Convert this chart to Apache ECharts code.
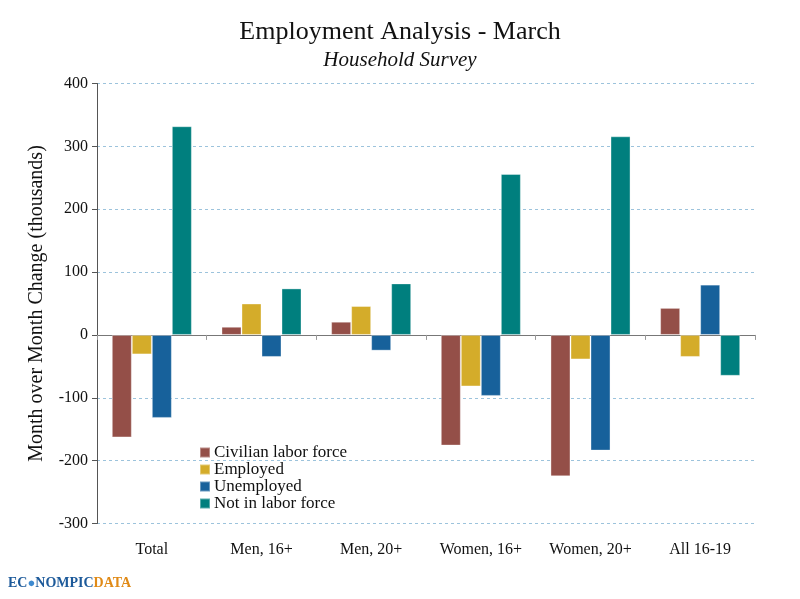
<!DOCTYPE html>
<html>
<head>
<meta charset="utf-8">
<script src="https://cdn.jsdelivr.net/npm/echarts@6/dist/echarts.min.js"></script>
<style>
  html, body { margin: 0; padding: 0; background: #fff; }
  #main { width: 800px; height: 599px; }
</style>
</head>
<body>
<div id="main"></div>
<script>
// data (thousands)
const categories = ['Total', 'Men, 16+', 'Men, 20+', 'Women, 16+', 'Women, 20+', 'All 16-19']
const civilian = [-163, 13, 21, -176, -225, 43]
const employed = [-31, 50, 46, -82, -39, -35]
const unemployed = [-132, -35, -25, -97, -184, 80]
const notInLabor = [332, 74, 82, 256, 316, -65]
const seriesNames = ['Civilian labor force', 'Employed', 'Unemployed', 'Not in labor force']
const colors = ['#944f48', '#d4ac2a', '#17619b', '#007f7e']

const font = 'Liberation Serif'
const chart = echarts.init(document.getElementById('main'))

function barSeries(name, data) {
    return {
        name: name,
        type: 'bar',
        data: data,
        barGap: 0,
        barCategoryGap: '27%',
        itemStyle: { borderColor: 'rgba(255,255,255,0.35)', borderWidth: 1 }
    }
}

const option = {
    color: colors,
    animation: false,
    textStyle: { fontFamily: font },
    title: [{
        text: 'Employment Analysis - March',
        left: 'center',
        top: 14,
        textStyle: { fontFamily: font, fontSize: 26, fontWeight: 'normal', color: '#111' }
    }, {
        text: 'Household Survey',
        left: 'center',
        top: 45,
        textStyle: { fontFamily: font, fontSize: 21, fontStyle: 'italic', fontWeight: 'normal', color: '#111' }
    }],
    legend: {
        orient: 'vertical',
        left: 194,
        top: 439,
        itemWidth: 10,
        itemHeight: 10,
        itemGap: 0,
        icon: 'rect',
        textStyle: { fontFamily: font, fontSize: 17, color: '#111', padding: [0, 0, 0, -1] },
        data: seriesNames
    },
    grid: { left: 97, right: 45, top: 83.5, bottom: 75.5 },
    xAxis: [{
        type: 'category',
        data: categories,
        position: 'bottom',
        axisLine: { show: false, onZero: false },
        axisTick: { show: false },
        axisLabel: { fontFamily: font, fontSize: 16, color: '#111', margin: 18 }
    }, {
        type: 'category',
        data: categories,
        position: 'bottom',
        axisLine: { onZero: true, lineStyle: { color: '#777', width: 1 } },
        axisTick: { show: true, length: 5, lineStyle: { color: '#999' } },
        axisLabel: { show: false }
    }],
    yAxis: {
        type: 'value',
        min: -300,
        max: 400,
        interval: 100,
        name: 'Month over Month Change (thousands)',
        nameLocation: 'middle',
        nameGap: 50,
        nameTextStyle: { fontFamily: font, fontSize: 20, color: '#111' },
        axisLine: { show: true, lineStyle: { color: '#555' } },
        axisTick: { show: true, length: 5, lineStyle: { color: '#555' } },
        axisLabel: { fontFamily: font, fontSize: 16, color: '#111', margin: 9 },
        splitLine: { lineStyle: { color: '#9cc3dc', type: [3, 3] } }
    },
    series: [
        barSeries(seriesNames[0], civilian),
        barSeries(seriesNames[1], employed),
        barSeries(seriesNames[2], unemployed),
        barSeries(seriesNames[3], notInLabor)
    ],
    graphic: [{
        type: 'text',
        left: 8,
        top: 576,
        style: {
            text: '{b|EC}{g|●}{b|NOMPIC}{o|DATA}',
            rich: {
                b: { fontFamily: font, fontWeight: 'bold', fontSize: 14, fill: '#1d5a9a' },
                g: { fontSize: 13, fill: '#3d8ad0' },
                o: { fontFamily: font, fontWeight: 'bold', fontSize: 14, fill: '#e08a17' }
            }
        }
    }]
}

chart.setOption(option)
</script>
</body>
</html>
